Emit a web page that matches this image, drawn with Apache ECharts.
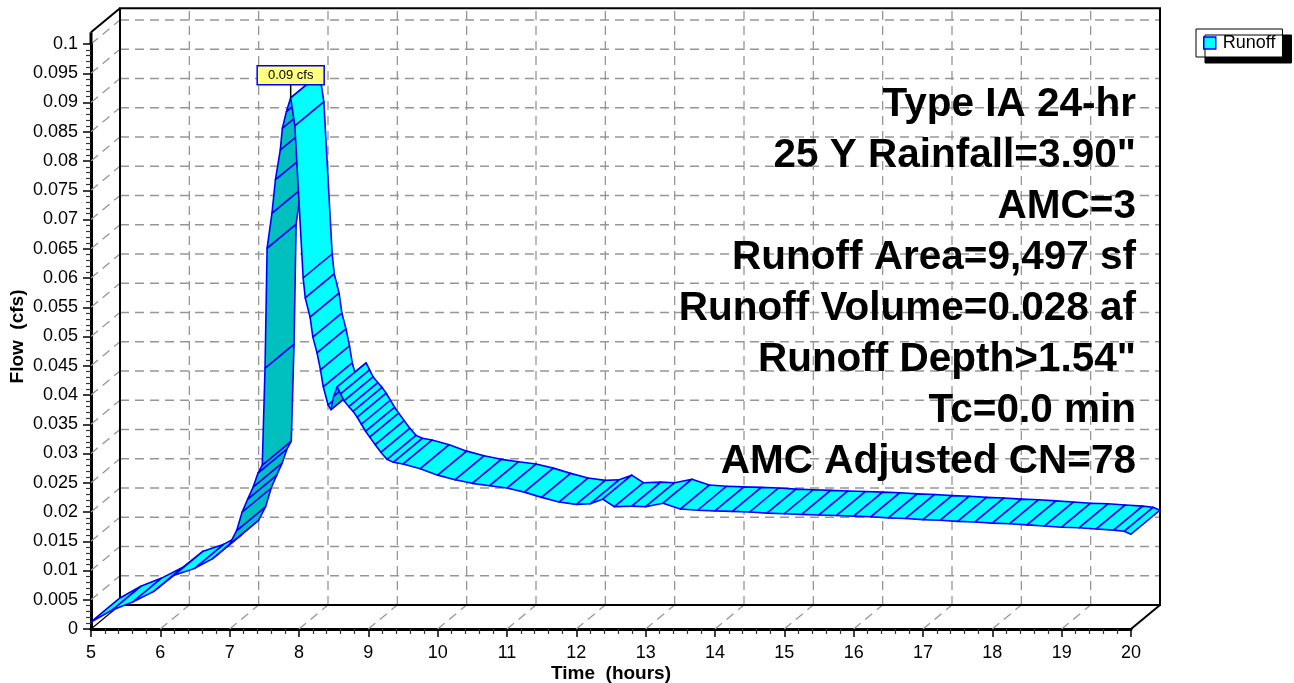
<!DOCTYPE html>
<html><head><meta charset="utf-8">
<script src="https://cdn.jsdelivr.net/npm/echarts@6/dist/echarts.min.js"></script>
<style>html,body{margin:0;padding:0;background:#fff}#c{width:1294px;height:683px}</style>
</head><body><div id="c"></div>
<script>
// ---- data ----
const hours = [5.0,5.3,5.6,5.9,6.2,6.5,6.75,7.0,7.1,7.18,7.26,7.34,7.41,7.47,7.51,7.54,7.61,7.66,7.73,7.76,7.82,7.88,7.94,8.06,8.09,8.16,8.2,8.26,8.31,8.35,8.42,8.46,8.5,8.55,8.6,8.65,8.72,8.78,8.84,8.9,8.96,9.02,9.1,9.18,9.27,9.36,9.5,9.75,10.0,10.25,10.5,10.75,11.0,11.25,11.5,11.75,12.0,12.2,12.38,12.55,12.8,13.0,13.25,13.5,13.75,14.0,14.25,14.5,14.75,15.0,15.25,15.5,15.75,16.0,16.25,16.5,16.75,17.0,17.25,17.5,17.75,18.0,18.25,18.5,18.75,19.0,19.25,19.5,19.75,19.9,20.0];
const flow = [0.0012,0.0032,0.0046,0.0064,0.0092,0.0104,0.0120,0.0145,0.0168,0.0200,0.0222,0.0243,0.0267,0.0280,0.0446,0.0651,0.0711,0.0768,0.0819,0.0856,0.0885,0.0908,0.0860,0.0600,0.0566,0.0533,0.0499,0.0472,0.0443,0.0414,0.0383,0.0375,0.0398,0.0414,0.0402,0.0390,0.0380,0.0372,0.0362,0.0350,0.0338,0.0328,0.0315,0.0302,0.0290,0.0285,0.0282,0.0274,0.0263,0.0255,0.0249,0.0245,0.0241,0.0234,0.0225,0.0217,0.0213,0.0214,0.0222,0.0209,0.0210,0.0209,0.0215,0.0205,0.0203,0.0202,0.0201,0.0200,0.0198,0.0197,0.0196,0.0195,0.0194,0.0193,0.0192,0.0190,0.0189,0.0187,0.0186,0.0184,0.0183,0.0181,0.0180,0.0178,0.0176,0.0174,0.0173,0.0171,0.0169,0.0167,0.0162];
const xTicks = [5,6,7,8,9,10,11,12,13,14,15,16,17,18,19,20];
const yTicks = [0,0.005,0.01,0.015,0.02,0.025,0.03,0.035,0.04,0.045,0.05,0.055,0.06,0.065,0.07,0.075,0.08,0.085,0.09,0.095,0.1];
const yWallTop = 0.102;
const seriesName = 'Runoff';
const flowUnit = 'cfs';
const xTitle = 'Time  (hours)';
const yTitle = 'Flow  (cfs)';
const infoLines = ['Type IA 24-hr','25 Y Rainfall=3.90"','AMC=3','Runoff Area=9,497 sf','Runoff Volume=0.028 af','Runoff Depth>1.54"','Tc=0.0 min','AMC Adjusted CN=78'];

// ---- style ----
const DX = 29, DY = -24;
const FONT = '"Liberation Sans", Arial, sans-serif';

const segData = hours.slice(0, -1).map((t, i) => [t, flow[i], hours[i + 1], flow[i + 1]]);
let pk = 0; flow.forEach((v, i) => { if (v > flow[pk]) pk = i; });

function seg(a, b, style) { return { type: 'line', shape: { x1: a[0], y1: a[1], x2: b[0], y2: b[1] }, style: style, silent: true }; }

function renderFrame(params, api) {
  const P = (t, v) => api.coord([t, v]);
  const B = (t, v) => { const p = api.coord([t, v]); return [p[0] + DX, p[1] + DY]; };
  const x0 = xTicks[0], x1 = xTicks[xTicks.length - 1];
  const dash = { stroke: '#969696', lineWidth: 1.3, lineDash: [9, 6] };
  const solid = { stroke: '#000', lineWidth: 2 };
  const ch = [];
  yTicks.forEach(v => {
    if (v === 0) return;
    ch.push(seg(B(x0, v), B(x1, v), dash));
    ch.push(seg(P(x0, v), B(x0, v), dash));
  });
  xTicks.forEach(t => {
    if (t === x0 || t === x1) return;
    ch.push(seg(B(t, 0), B(t, yWallTop), dash));
    ch.push(seg(P(t, 0), B(t, 0), dash));
  });
  ch.push({ type: 'polyline', shape: { points: [B(x0, 0), B(x1, 0), B(x1, yWallTop), B(x0, yWallTop), B(x0, 0)] }, style: { stroke: '#000', lineWidth: 2, fill: null }, silent: true });
  ch.push(seg(P(x0, yWallTop), B(x0, yWallTop), solid));
  ch.push(seg(P(x1, 0), B(x1, 0), solid));
  ch.push(seg(P(x0, 0), B(x0, 0), { stroke: '#000', lineWidth: 1.2 }));
  ch.push(seg(P(x0, yTicks[yTicks.length - 1]), P(x0, yWallTop), { stroke: '#000', lineWidth: 3 }));
  return { type: 'group', children: ch };
}

function renderRibbon(params, api) {
  const a = api.coord([api.value(0), api.value(1)]);
  const b = api.coord([api.value(2), api.value(3)]);
  const pts = [a, b, [b[0] + DX, b[1] + DY], [a[0] + DX, a[1] + DY]];
  const cross = (b[0] - a[0]) * DY - (b[1] - a[1]) * DX;
  return { type: 'polygon', shape: { points: pts },
    style: { fill: cross > 0 ? '#00BFBF' : '#00FFFF', stroke: '#0000FF', lineWidth: 1.6, lineJoin: 'round' } };
}

function renderPeak(params, api) {
  const p = api.coord([api.value(0), api.value(1)]);
  const txt = api.value(1).toFixed(2) + ' ' + flowUnit;
  return { type: 'group', children: [
    seg([p[0], p[1]], [p[0], p[1] - 13], { stroke: '#000', lineWidth: 1.5 }),
    { type: 'rect', shape: { x: p[0] - 33.5, y: p[1] - 32, width: 67, height: 19 }, style: { fill: '#FFFF80', stroke: '#0000FF', lineWidth: 1.5 } },
    { type: 'text', x: p[0], y: p[1] - 22.5, style: { text: txt, fill: '#000', font: '13px ' + FONT, align: 'center', verticalAlign: 'middle' } }
  ] };
}

const chart = echarts.init(document.getElementById('c'), null, { renderer: 'canvas' });
chart.setOption({
  animation: false,
  backgroundColor: '#fff',
  textStyle: { fontFamily: FONT },
  grid: { left: 91, right: 163, top: 44, bottom: 54, containLabel: false, outerBoundsMode: 'none' },
  legend: {
    data: [{ name: seriesName, icon: 'rect', itemStyle: { color: '#00FFFF', borderColor: '#0000FF', borderWidth: 1.5 } }],
    left: 1196, top: 29, padding: [5, 7, 5, 7], itemWidth: 12, itemHeight: 12,
    textStyle: { fontSize: 18, color: '#000', fontFamily: FONT, padding: [0, 0, 0, 2] },
    backgroundColor: '#fff', borderColor: '#000', borderWidth: 1,
    shadowColor: '#000', shadowBlur: 0, shadowOffsetX: 9, shadowOffsetY: 6
  },
  xAxis: {
    type: 'value', min: xTicks[0], max: xTicks[xTicks.length - 1], interval: 1,
    axisLine: { onZero: false, lineStyle: { color: '#000', width: 3 } },
    axisTick: { length: 8, lineStyle: { color: '#000', width: 1.5 } },
    minorTick: { show: true, splitNumber: 5, length: 5, lineStyle: { color: '#333', width: 1.2 } },
    axisLabel: { fontSize: 18, color: '#000', margin: 15, fontFamily: FONT },
    splitLine: { show: false },
    name: xTitle, nameLocation: 'middle', nameGap: 35, nameMoveOverlap: false,
    nameTextStyle: { fontWeight: 'bold', fontSize: 19, color: '#000', fontFamily: FONT }
  },
  yAxis: {
    type: 'value', min: 0, max: yTicks[yTicks.length - 1], interval: 0.005,
    axisLine: { onZero: false, lineStyle: { color: '#000', width: 3 } },
    axisTick: { length: 8, lineStyle: { color: '#000', width: 1.5 } },
    minorTick: { show: true, splitNumber: 5, length: 5, lineStyle: { color: '#333', width: 1.2 } },
    axisLabel: { fontSize: 18, color: '#000', margin: 13, fontFamily: FONT },
    splitLine: { show: false },
    name: yTitle, nameLocation: 'middle', nameGap: 64, nameRotate: 90, nameMoveOverlap: false,
    nameTextStyle: { fontWeight: 'bold', fontSize: 19, color: '#000', fontFamily: FONT }
  },
  graphic: infoLines.map((s, i) => ({
    type: 'text', x: 1136, y: 105 + i * 51, z: 50,
    style: { text: s, fill: '#000', font: 'bold 40.5px ' + FONT, align: 'right', verticalAlign: 'middle' }
  })),
  series: [
    { type: 'custom', name: '_frame', z: 1, clip: false, silent: true, data: [[xTicks[0], 0]], renderItem: renderFrame, encode: { x: 0, y: 1 } },
    { type: 'custom', name: seriesName, z: 3, clip: false, silent: true, data: segData, renderItem: renderRibbon,
      itemStyle: { color: '#00FFFF', borderColor: '#0000FF' }, encode: { x: [0, 2], y: [1, 3] } },
    { type: 'custom', name: '_peak', z: 5, clip: false, silent: true, data: [[hours[pk], flow[pk]]], renderItem: renderPeak, encode: { x: 0, y: 1 } }
  ]
});
</script></body></html>
